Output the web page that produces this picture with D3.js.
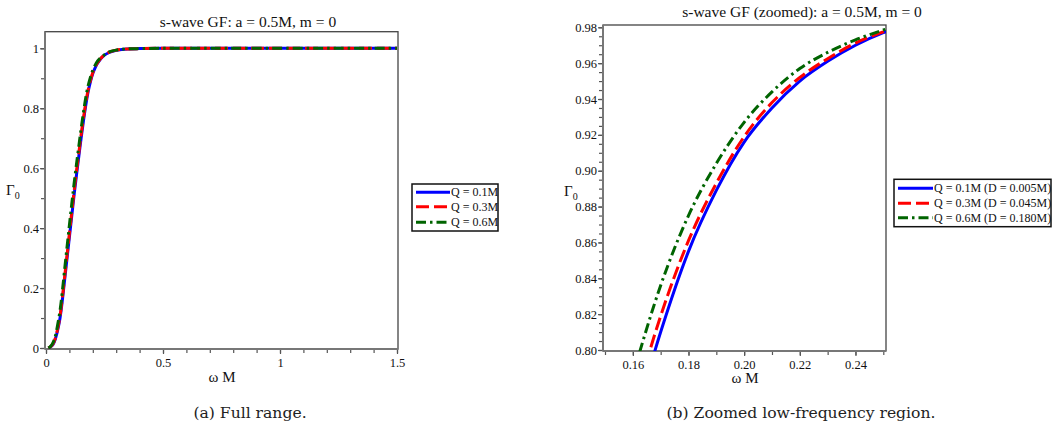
<!DOCTYPE html>
<html>
<head>
<meta charset="utf-8">
<script src="https://cdn.jsdelivr.net/npm/d3@7"></script>
<style>
  body { margin: 0; background: #fff; }
  svg { display: block; font-family: "Liberation Serif", "Times New Roman", serif; }
</style>
</head>
<body>
<div id="chart"></div>
<script>
// greybody factor data
const omega = [0.01, 0.02, 0.03, 0.04, 0.05, 0.06, 0.07, 0.08, 0.09, 0.10,
  0.11, 0.12, 0.13, 0.14, 0.15, 0.16, 0.17, 0.18, 0.19, 0.20,
  0.21, 0.22, 0.23, 0.24, 0.25, 0.27, 0.30, 0.35, 0.40, 0.50,
  0.75, 1.00, 1.25, 1.50];
const gammaQ01 = [0, 0.004, 0.012, 0.030, 0.060, 0.100, 0.160, 0.230, 0.300, 0.370,
  0.440, 0.510, 0.575, 0.638, 0.700, 0.757, 0.810, 0.855, 0.889, 0.916,
  0.935, 0.950, 0.961, 0.970, 0.977, 0.986, 0.993, 0.998, 0.999, 1.000,
  1.000, 1.000, 1.000, 1.000];
const gammaQ03 = [0, 0.005, 0.014, 0.033, 0.065, 0.107, 0.168, 0.240, 0.311, 0.382,
  0.452, 0.522, 0.588, 0.650, 0.711, 0.767, 0.819, 0.861, 0.893, 0.919,
  0.938, 0.952, 0.9625, 0.9712, 0.9775, 0.987, 0.994, 0.998, 0.999, 1.000,
  1.000, 1.000, 1.000, 1.000];
const gammaQ06 = [0, 0.006, 0.018, 0.040, 0.078, 0.125, 0.190, 0.265, 0.338, 0.410,
  0.480, 0.548, 0.612, 0.672, 0.731, 0.786, 0.836, 0.875, 0.904, 0.927,
  0.944, 0.957, 0.966, 0.973, 0.9785, 0.988, 0.994, 0.998, 0.999, 1.000,
  1.000, 1.000, 1.000, 1.000];

const seriesNames = ["Q = 0.1M", "Q = 0.3M", "Q = 0.6M"];
const seriesNamesZoom = ["Q = 0.1M (D = 0.005M)", "Q = 0.3M (D = 0.045M)", "Q = 0.6M (D = 0.180M)"];
const seriesColors = ["#0000ff", "#ff0000", "#006400"];
const seriesDash = [null, "13,5", "10,4,2.5,4"];
const seriesValues = [gammaQ01, gammaQ03, gammaQ06];

const fullXTicks = [0, 0.5, 1, 1.5];
const fullYTicks = [0, 0.2, 0.4, 0.6, 0.8, 1];
const zoomXTicks = [0.16, 0.18, 0.20, 0.22, 0.24];
const zoomYTicks = [0.80, 0.82, 0.84, 0.86, 0.88, 0.90, 0.92, 0.94, 0.96, 0.98];

const width = 1058, height = 447;

const svg = d3.select("#chart").append("svg")
  .attr("width", width)
  .attr("height", height);

svg.append("rect").attr("width", width).attr("height", height).attr("fill", "#fff");

const series = seriesValues.map((vals, i) => ({
  i,
  points: omega.map((w, k) => [w, vals[k]])
}));

function panel(cfg) {
  const x = d3.scaleLinear().domain(cfg.xDomain).range(cfg.xRange);
  const y = d3.scaleLinear().domain(cfg.yDomain).range(cfg.yRange);
  const f = cfg.frame;
  const g = svg.append("g");

  g.append("clipPath").attr("id", cfg.id + "-clip")
    .append("rect")
    .attr("x", f.x0).attr("y", f.y0)
    .attr("width", f.x1 - f.x0).attr("height", f.y1 - f.y0);

  // frame
  g.append("rect")
    .attr("x", f.x0).attr("y", f.y0)
    .attr("width", f.x1 - f.x0).attr("height", f.y1 - f.y0)
    .attr("fill", "none")
    .attr("stroke", "#444")
    .attr("stroke-width", 1.3);

  // minor ticks
  const minorX = d3.range(cfg.xMinor[0], cfg.xMinor[1] + 1e-9, cfg.xMinor[2]);
  const minorY = d3.range(cfg.yMinor[0], cfg.yMinor[1] + 1e-9, cfg.yMinor[2]);

  g.append("g")
    .attr("transform", `translate(0,${f.y1})`)
    .call(d3.axisBottom(x).tickValues(minorX).tickSize(4).tickFormat(""))
    .call(a => a.select(".domain").remove());
  g.append("g")
    .attr("transform", `translate(${f.x0},0)`)
    .call(d3.axisLeft(y).tickValues(minorY).tickSize(4).tickFormat(""))
    .call(a => a.select(".domain").remove());

  // major ticks with labels
  const xAxis = g.append("g")
    .attr("transform", `translate(0,${f.y1})`)
    .call(d3.axisBottom(x).tickValues(cfg.xTicks).tickSize(5).tickPadding(4).tickFormat(cfg.xFormat));
  const yAxis = g.append("g")
    .attr("transform", `translate(${f.x0},0)`)
    .call(d3.axisLeft(y).tickValues(cfg.yTicks).tickSize(5).tickPadding(1).tickFormat(cfg.yFormat));

  for (const a of [xAxis, yAxis]) {
    a.select(".domain").remove();
    a.selectAll("text")
      .attr("font-family", "Liberation Serif, serif")
      .attr("font-size", 12.5)
      .attr("fill", "#111");
  }
  g.selectAll(".tick line").attr("stroke", "#555").attr("stroke-width", 1.2);

  // left and bottom axis lines, grey and heavier
  g.append("line")
    .attr("x1", f.x0).attr("x2", f.x0).attr("y1", f.y0).attr("y2", f.y1)
    .attr("stroke", "#777").attr("stroke-width", 2);
  g.append("line")
    .attr("x1", f.x0).attr("x2", f.x1).attr("y1", f.y1).attr("y2", f.y1)
    .attr("stroke", "#777").attr("stroke-width", 2);

  // curves
  const line = d3.line()
    .curve(d3.curveMonotoneX)
    .x(d => x(d[0]))
    .y(d => y(d[1]));

  g.append("g")
    .attr("clip-path", `url(#${cfg.id}-clip)`)
    .selectAll("path")
    .data(series)
    .join("path")
    .attr("fill", "none")
    .attr("stroke", d => seriesColors[d.i])
    .attr("stroke-width", 3)
    .attr("stroke-dasharray", d => seriesDash[d.i])
    .attr("d", d => line(d.points));

  // title
  g.append("text")
    .attr("x", cfg.title.x).attr("y", cfg.title.y)
    .attr("text-anchor", "middle")
    .attr("font-size", 15.5)
    .attr("fill", "#111")
    .text(cfg.title.text);

  // axis labels
  g.append("text")
    .attr("x", cfg.xLabel.x).attr("y", cfg.xLabel.y)
    .attr("text-anchor", "middle")
    .attr("font-size", 15)
    .attr("fill", "#111")
    .text("ω M");

  const yl = g.append("text")
    .attr("x", cfg.yLabel.x).attr("y", cfg.yLabel.y)
    .attr("font-size", 15)
    .attr("fill", "#111");
  yl.append("tspan").text("Γ");
  yl.append("tspan").attr("dy", 4).attr("font-size", 10).text("0");

  // legend
  const L = cfg.legend;
  const lg = g.append("g");
  lg.append("rect")
    .attr("x", L.x).attr("y", L.y)
    .attr("width", L.w).attr("height", L.h)
    .attr("fill", "#fff")
    .attr("stroke", "#111")
    .attr("stroke-width", 1.5);
  const rows = lg.selectAll("g.row")
    .data(series)
    .join("g")
    .attr("class", "row")
    .attr("transform", d => `translate(${L.x},${L.y + L.rowY[d.i]})`);
  rows.append("line")
    .attr("x1", 4).attr("x2", L.sample)
    .attr("stroke", d => seriesColors[d.i])
    .attr("stroke-width", 3)
    .attr("stroke-dasharray", d => seriesDash[d.i]);
  rows.append("text")
    .attr("x", L.sample + 1)
    .attr("y", 4)
    .attr("font-size", 12)
    .attr("fill", "#111")
    .text(d => L.names[d.i]);

  // caption
  g.append("text")
    .attr("x", cfg.caption.x).attr("y", cfg.caption.y)
    .attr("text-anchor", "middle")
    .attr("font-family", "DejaVu Serif, serif")
    .attr("font-size", 15.6)
    .attr("fill", "#222")
    .text(cfg.caption.text);
}

panel({
  id: "full",
  xDomain: [0, 1.5], xRange: [46, 397],
  yDomain: [0, 1], yRange: [348, 48.3],
  frame: { x0: 45, x1: 398, y0: 31.7, y1: 349 },
  xTicks: fullXTicks, yTicks: fullYTicks,
  xMinor: [0, 1.5, 0.1], yMinor: [0, 1, 0.1],
  xFormat: d => String(d), yFormat: d => String(d),
  title: { x: 248, y: 27, text: "s-wave GF: a = 0.5M, m = 0" },
  xLabel: { x: 222, y: 382 },
  yLabel: { x: 6, y: 195 },
  legend: { x: 412, y: 184, w: 86, h: 47, sample: 38, rowY: [8.3, 22.7, 38.3], names: seriesNames },
  caption: { x: 250, y: 418, text: "(a) Full range." }
});

panel({
  id: "zoom",
  xDomain: [0.15, 0.25], xRange: [605, 883.3],
  yDomain: [0.80, 0.98], yRange: [350, 27.3],
  frame: { x0: 603, x1: 886, y0: 25, y1: 351 },
  xTicks: zoomXTicks, yTicks: zoomYTicks,
  xMinor: [0.15, 0.25, 0.01], yMinor: [0.80, 0.98, 0.005],
  xFormat: d3.format(".2f"), yFormat: d3.format(".2f"),
  title: { x: 802, y: 17, text: "s-wave GF (zoomed): a = 0.5M, m = 0" },
  xLabel: { x: 745, y: 383 },
  yLabel: { x: 564, y: 196 },
  legend: { x: 894, y: 179.3, w: 157, h: 47.4, sample: 39, rowY: [9, 24, 38.4], names: seriesNamesZoom },
  caption: { x: 801, y: 418, text: "(b) Zoomed low-frequency region." }
});
</script>
</body>
</html>
